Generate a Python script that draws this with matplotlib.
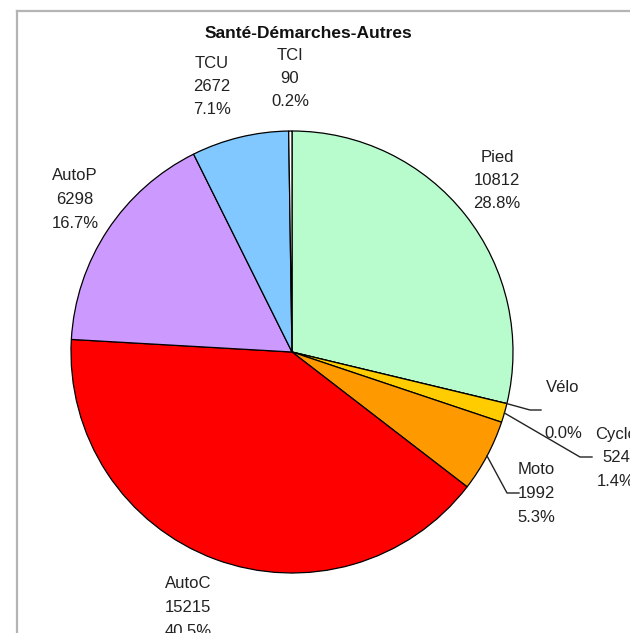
import numpy as np
import matplotlib
matplotlib.use("Agg")
import matplotlib.pyplot as plt

# Trip counts by mode, purpose "Santé-Démarches-Autres"
modes = ["Pied", "Vélo", "Cyclo", "Moto", "AutoC", "AutoP", "TCU", "TCI"]
counts = [10812, 0, 524, 1992, 15215, 6298, 2672, 90]
colors = ["#b8fcce", "#f2f2f2", "#ffcc00", "#ff9900", "#ff0000",
          "#cc99ff", "#80c8ff", "#ffffff"]
title = "Santé-Démarches-Autres"

W, H = 630, 633
fig = plt.figure(figsize=(W / 100, H / 100), dpi=100)
ax = fig.add_axes([0, 0, 1, 1])

cx, cy, R = 292, H - 352, 221
total = sum(counts)
shares = [c / total * 100 for c in counts]

ax.pie(counts, colors=colors, startangle=90, counterclock=False,
       center=(cx, cy), radius=R,
       wedgeprops=dict(edgecolor="black", linewidth=0.9))

ax.set_xlim(0, W)
ax.set_ylim(0, H)
ax.set_aspect("equal")
ax.axis("off")

# chart frame (top and left edges)
ax.plot([17, W], [H - 11, H - 11], color="#b4b4b4", lw=1.6, clip_on=False)
ax.plot([17, 17], [H - 11, 0], color="#b4b4b4", lw=1.6, clip_on=False)

font = "Liberation Sans"
ax.text(308, H - 33, title, ha="center", va="center", fontsize=12.5,
        fontweight="bold", family=font, color="#111111")

# label block positions (centre x, first line y, from top)
label_pos = {
    "Pied": (497, 157),
    "Vélo": (563, 387),
    "Cyclo": (616, 434),
    "Moto": (536, 470),
    "AutoC": (188, 584),
    "AutoP": (75, 176),
    "TCU": (212, 63),
    "TCI": (290, 55),
}
step = 23.5
for name, cnt, pct in zip(modes, counts, shares):
    x, y0 = label_pos[name]
    lines = [name, "" if cnt == 0 else f"{cnt}", f"{pct:.1f}%"]
    for i, s in enumerate(lines):
        ax.text(x, H - (y0 + i * step), s, ha="center", va="center",
                fontsize=12, family=font, color="#222222", clip_on=False)

# leader lines for the small slices
cum = np.cumsum([0] + counts)
def mid_point(i):
    frac = (cum[i] + cum[i + 1]) / 2 / total
    ang = np.deg2rad(90 - 360 * frac)
    return cx + R * np.cos(ang), cy + R * np.sin(ang)

leaders = {
    "Vélo": [(530, 410), (541, 410)],
    "Cyclo": [(580, 457), (592, 457)],
    "Moto": [(507, 493), (519, 493)],
}
for name, pts in leaders.items():
    i = modes.index(name)
    sx, sy = mid_point(i)
    xs = [sx] + [p[0] for p in pts]
    ys = [sy] + [H - p[1] for p in pts]
    ax.plot(xs, ys, color="#222222", lw=1.0)

fig.savefig("out.png", dpi=100)
